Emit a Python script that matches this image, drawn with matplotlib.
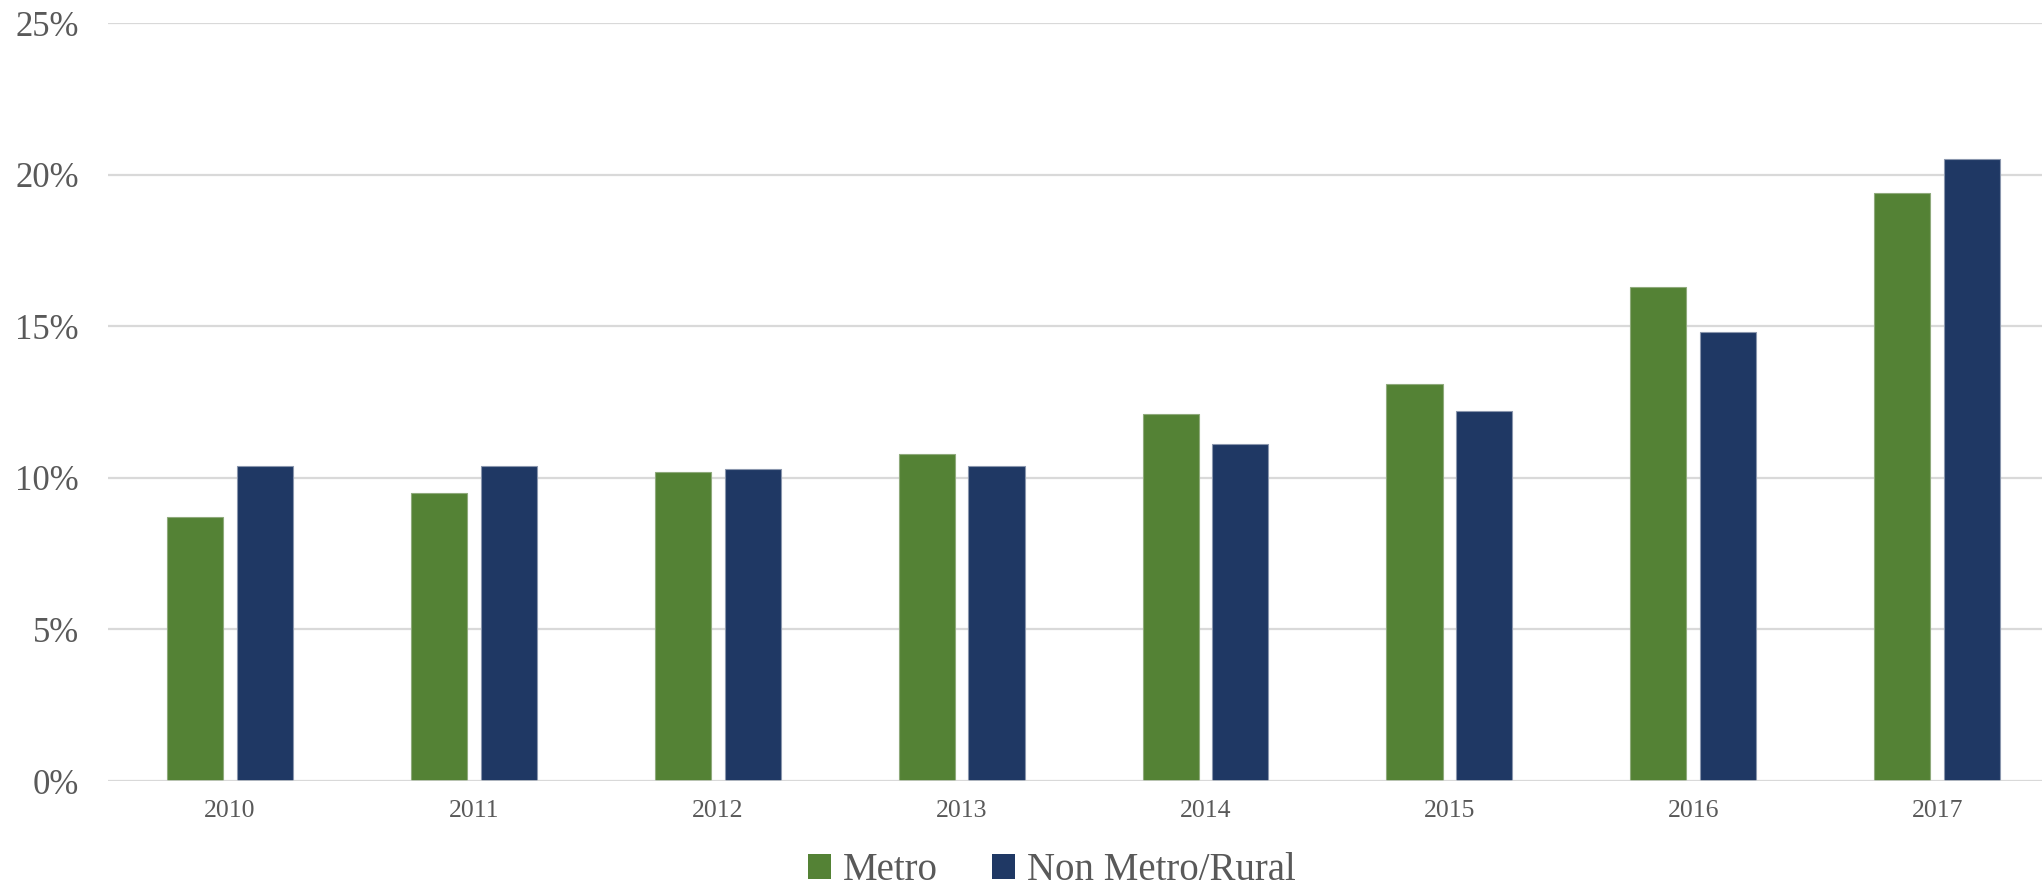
import numpy as np
import matplotlib
matplotlib.use("Agg")
import matplotlib.pyplot as plt
from matplotlib.patches import Patch
from matplotlib.ticker import FuncFormatter

years = ["2010", "2011", "2012", "2013", "2014", "2015", "2016", "2017"]
metro = [8.7, 9.5, 10.2, 10.8, 12.1, 13.1, 16.3, 19.4]
rural = [10.4, 10.4, 10.3, 10.4, 11.1, 12.2, 14.8, 20.5]
series_names = ["Metro", "Non Metro/Rural"]

green = "#548235"
navy = "#1F3864"
text_col = "#595959"
grid_col = "#D9D9D9"

plt.rcParams["font.family"] = ["Liberation Serif", "DejaVu Serif"]

fig = plt.figure(figsize=(20.42, 8.92), dpi=100)
ax = fig.add_axes([0.0529, 0.1244, 0.9471, 0.8498])

x = np.arange(len(years))
w = 0.23
off = 0.143
ax.bar(x - off, metro, w, color=green, edgecolor="#8FAA7C", linewidth=0.8, zorder=3)
ax.bar(x + off, rural, w, color=navy, edgecolor="#8A96AD", linewidth=0.8, zorder=3)

ax.set_ylim(0, 25)
ax.set_xlim(-0.5, 7.43)
ax.set_yticks([0, 5, 10, 15, 20, 25])
ax.yaxis.set_major_formatter(FuncFormatter(lambda v, p: f"{v:.0f}%"))
ax.set_xticks(x)
ax.set_xticklabels(years)
ax.yaxis.grid(True, color=grid_col, linewidth=1.6, zorder=0)
for s in ax.spines.values():
    s.set_visible(False)
ax.axhline(0, color=grid_col, linewidth=1.8, zorder=4)
ax.tick_params(axis="both", length=0, colors=text_col)
ax.tick_params(axis="y", labelsize=25, pad=21)
ax.tick_params(axis="x", labelsize=18.5, pad=14)

handles = [Patch(facecolor=green), Patch(facecolor=navy)]
fig.legend(handles, series_names, loc="lower center", bbox_to_anchor=(0.515, -0.036),
           ncol=2, frameon=False, fontsize=28, handlelength=0.6, handleheight=0.6,
           handletextpad=0.3, columnspacing=1.4, labelcolor=text_col)

fig.savefig("out.png", dpi=100, facecolor="white")
